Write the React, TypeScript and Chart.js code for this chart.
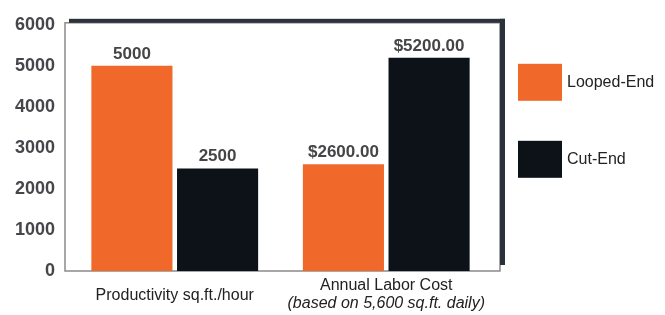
import { useEffect, useRef } from "react";
import { Chart, registerables } from "chart.js";

Chart.register(...registerables);

const categories = ["Productivity sq.ft./hour", "Annual Labor Cost"];
const categoryNotes = ["", "(based on 5,600 sq.ft. daily)"];
const seriesNames = ["Looped-End", "Cut-End"];
const loopedEnd = [5000, 2600];
const cutEnd = [2500, 5200];
const loopedEndLabels = ["5000", "$2600.00"];
const cutEndLabels = ["2500", "$5200.00"];
const yMin = 0;
const yMax = 6000;
const yStep = 1000;

const valueLabels = [loopedEndLabels, cutEndLabels];
const FONT = "'Liberation Sans', Arial, Helvetica, sans-serif";

const framePlugin = {
  id: "frame",
  beforeDatasetsDraw(chart: any) {
    const { ctx, chartArea: ca } = chart;
    const l = ca.left - 4;
    const r = ca.right + 8;
    const t = ca.top - 2;
    const b = ca.bottom;
    ctx.save();
    ctx.strokeStyle = "#8a8a8a";
    ctx.lineWidth = 1.5;
    ctx.strokeRect(l, t, r - l, b - t);
    ctx.fillStyle = "#2b323c";
    ctx.fillRect(l + 4, t - 4, r + 5 - (l + 4), 4);
    ctx.fillRect(r, t - 4, 5, b - 6 - (t - 4));
    ctx.restore();
  },
};

const labelsPlugin = {
  id: "valueLabels",
  afterDatasetsDraw(chart: any) {
    const { ctx } = chart;
    ctx.save();
    ctx.font = `bold 17px ${FONT}`;
    ctx.fillStyle = "#454548";
    ctx.textAlign = "center";
    ctx.textBaseline = "alphabetic";
    chart.data.datasets.forEach((ds: any, di: number) => {
      const meta = chart.getDatasetMeta(di);
      meta.data.forEach((el: any, i: number) => {
        ctx.fillText(valueLabels[di][i], el.x, el.y - 7);
      });
    });
    ctx.restore();
  },
};

const xLabelsPlugin = {
  id: "xLabels",
  afterDraw(chart: any) {
    const { ctx, chartArea: ca } = chart;
    const xs = chart.scales.x;
    ctx.save();
    ctx.fillStyle = "#222222";
    ctx.textAlign = "center";
    ctx.textBaseline = "middle";
    categories.forEach((c, i) => {
      const x = xs.getPixelForValue(i);
      const note = categoryNotes[i];
      if (note) {
        ctx.font = `16px ${FONT}`;
        ctx.fillText(c, x, ca.bottom + 15);
        ctx.font = `italic 16px ${FONT}`;
        ctx.fillText(note, x, ca.bottom + 33);
      } else {
        ctx.font = `16px ${FONT}`;
        ctx.fillText(c, x, ca.bottom + 25);
      }
    });
    ctx.restore();
  },
};

const legendPlugin = {
  id: "customLegend",
  afterDraw(chart: any) {
    const { ctx, chartArea: ca } = chart;
    const x0 = ca.right + 26;
    ctx.save();
    ctx.font = `16px ${FONT}`;
    ctx.textAlign = "left";
    ctx.textBaseline = "middle";
    chart.data.datasets.forEach((ds: any, i: number) => {
      const y = ca.top + 39 + i * 77;
      ctx.fillStyle = ds.backgroundColor;
      ctx.fillRect(x0, y, 44, 37);
      ctx.fillStyle = "#222222";
      ctx.fillText(ds.label, x0 + 49, y + 19);
    });
    ctx.restore();
  },
};

export default function App() {
  const ref = useRef<HTMLCanvasElement>(null);
  useEffect(() => {
    document.body.style.margin = "0";
    const canvas = ref.current!;
    const chart = new Chart(canvas, {
      type: "bar",
      data: {
        labels: categories,
        datasets: [
          {
            label: seriesNames[0],
            data: loopedEnd,
            backgroundColor: "#f0692b",
            borderWidth: 0,
            categoryPercentage: 0.81,
            barPercentage: 0.947,
          },
          {
            label: seriesNames[1],
            data: cutEnd,
            backgroundColor: "#0c1217",
            borderWidth: 0,
            categoryPercentage: 0.81,
            barPercentage: 0.947,
          },
        ],
      },
      options: {
        responsive: false,
        animation: false,
        layout: { padding: { top: 16, bottom: 44, left: 0, right: 173 } },
        plugins: {
          legend: { display: false },
          tooltip: { enabled: false },
        },
        scales: {
          x: { display: false },
          y: {
            min: yMin,
            max: yMax,
            grid: { display: false, drawTicks: false },
            border: { display: false },
            ticks: {
              stepSize: yStep,
              padding: 14,
              color: "#45454a",
              font: { family: FONT, size: 18, weight: "bold" },
              callback: (v: any) => String(v),
            },
            afterFit(scale: any) {
              scale.width = 69;
            },
          },
        },
      },
      plugins: [framePlugin, labelsPlugin, xLabelsPlugin, legendPlugin],
    });
    return () => chart.destroy();
  }, []);
  return <canvas ref={ref} width={665} height={315} style={{ display: "block" }} />;
}
